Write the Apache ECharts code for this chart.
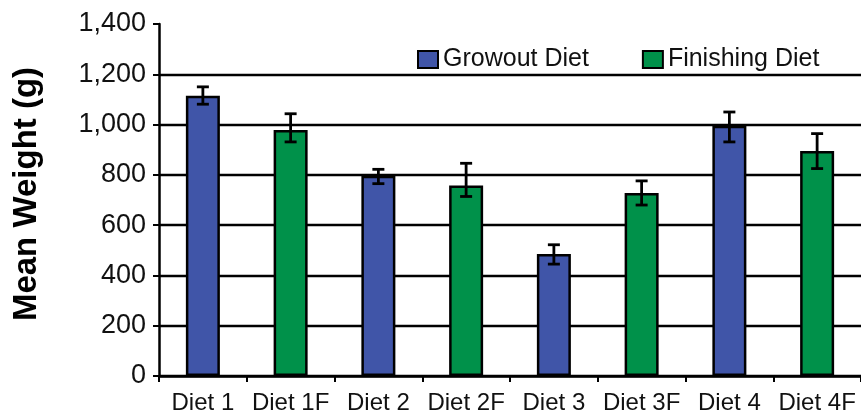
<!DOCTYPE html>
<html>
<head>
<meta charset="utf-8">
<script src="https://cdn.jsdelivr.net/npm/echarts@6/dist/echarts.min.js"></script>
<style>
html,body{margin:0;padding:0;background:#fff;}
#c{width:861px;height:419px;}
</style>
</head>
<body>
<div id="c"></div>
<script>
var categories = ['Diet 1','Diet 1F','Diet 2','Diet 2F','Diet 3','Diet 3F','Diet 4','Diet 4F'];
var growout   = [1115, '-', 796, '-', 485, '-', 995, '-'];
var finishing = ['-', 978, '-', 758, '-', 728, '-', 895];
var errLow  = [1081, 931, 765, 714, 445, 680, 931, 825];
var errHigh = [1150, 1043, 822, 846, 522, 776, 1050, 964];

var errData = categories.map(function(c, i){ return [i, errLow[i], errHigh[i]]; });

var chart = echarts.init(document.getElementById('c'));
var FONT = 'Liberation Sans';
chart.setOption({
  animation: false,
  backgroundColor: '#fff',
  grid: { left: 159, top: 24, width: 704, height: 352 },
  legend: {
    left: 412, top: 42,
    itemWidth: 20, itemHeight: 17, itemGap: 53,
    icon: 'rect',
    textStyle: { fontFamily: FONT, fontSize: 25, color: '#111' },
    data: ['Growout Diet', 'Finishing Diet']
  },
  xAxis: {
    type: 'category',
    data: categories,
    boundaryGap: true,
    axisLine: { lineStyle: { color: '#000', width: 2.5 } },
    axisTick: { show: true, length: 6, lineStyle: { color: '#000', width: 2 } },
    axisLabel: { fontFamily: FONT, fontSize: 24, color: '#111', margin: 15, interval: 0 }
  },
  yAxis: {
    type: 'value',
    min: 0, max: 1400, interval: 200,
    name: 'Mean Weight (g)',
    nameLocation: 'middle',
    nameGap: 116,
    nameTextStyle: { fontFamily: FONT, fontSize: 33, fontWeight: 'bold', color: '#000', padding: [0, 0, 0, 12] },
    axisLine: { show: true, lineStyle: { color: '#000', width: 2.5 } },
    axisTick: { show: true, length: 6, lineStyle: { color: '#000', width: 2 } },
    axisLabel: {
      fontFamily: FONT, fontSize: 27, color: '#111', margin: 13,
      formatter: function(v){ return v.toLocaleString('en-US'); }
    },
    splitLine: { show: true, lineStyle: { color: ['#000','#000','#000','#000','#000','#000','#000','rgba(0,0,0,0)'], width: 2.4 } }
  },
  series: [
    {
      name: 'Growout Diet', type: 'bar', data: growout, barWidth: 34, barGap: '-100%',
      itemStyle: { color: '#4055A8', borderColor: '#000', borderWidth: 2.5 }
    },
    {
      name: 'Finishing Diet', type: 'bar', data: finishing, barWidth: 34, barGap: '-100%',
      itemStyle: { color: '#00914A', borderColor: '#000', borderWidth: 2.5 }
    },
    {
      type: 'custom',
      data: errData,
      z: 10,
      renderItem: function(params, api){
        var x = api.value(0);
        var lo = api.coord([x, api.value(1)]);
        var hi = api.coord([x, api.value(2)]);
        var hw = 6;
        var st = { stroke: '#000', lineWidth: 2.8 };
        return {
          type: 'group',
          children: [
            { type: 'line', shape: { x1: lo[0], y1: lo[1], x2: hi[0], y2: hi[1] }, style: st },
            { type: 'line', shape: { x1: lo[0]-hw, y1: lo[1], x2: lo[0]+hw, y2: lo[1] }, style: st },
            { type: 'line', shape: { x1: hi[0]-hw, y1: hi[1], x2: hi[0]+hw, y2: hi[1] }, style: st }
          ]
        };
      }
    }
  ]
});
</script>
</body>
</html>
